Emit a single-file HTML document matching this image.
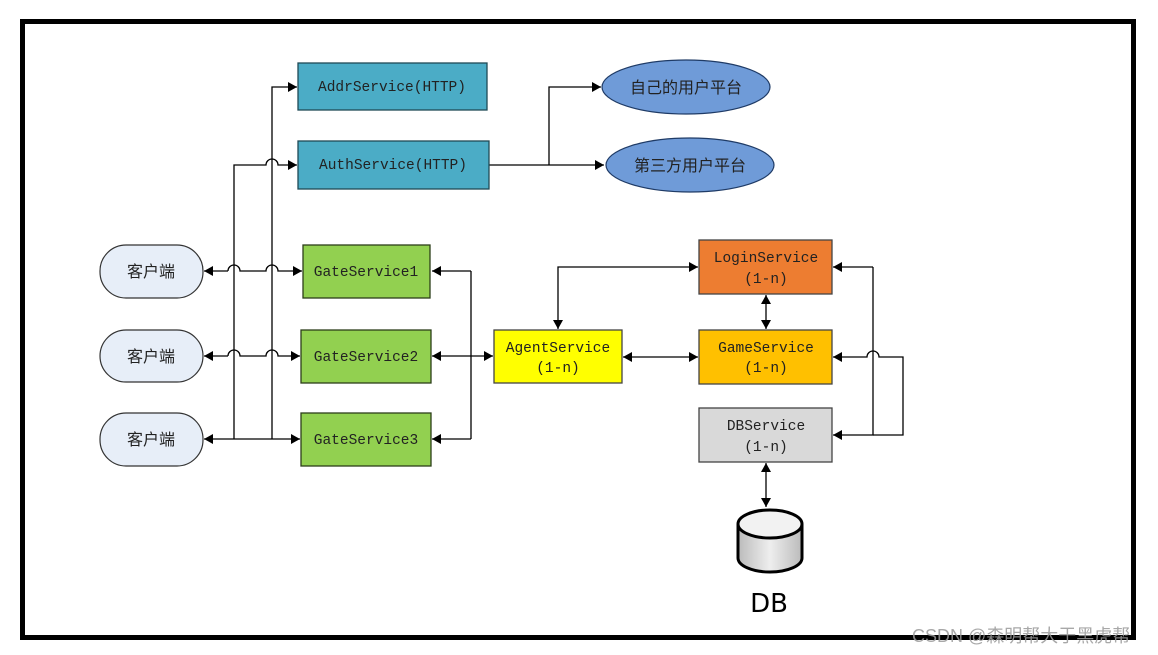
<!DOCTYPE html>
<html><head><meta charset="utf-8"><style>
body{margin:0;background:#fff;width:1158px;height:655px;overflow:hidden}
svg{position:absolute;left:0;top:0}
text{font-family:"Liberation Mono","Noto Serif CJK SC",monospace;font-size:14.5px;fill:#222}
.cj{font-family:"Liberation Sans","Noto Sans CJK SC",sans-serif;font-size:16px}
</style></head><body>
<svg width="1158" height="655" viewBox="0 0 1158 655">
<defs>
<marker id="a" markerWidth="10" markerHeight="10" refX="9" refY="5" orient="auto" markerUnits="userSpaceOnUse"><path d="M0,0 L9,5 L0,10z" fill="#000"/></marker>
<linearGradient id="g" x1="0" x2="1"><stop offset="0" stop-color="#bbb"/><stop offset=".5" stop-color="#eee"/><stop offset="1" stop-color="#bbb"/></linearGradient>
</defs>
<rect x="22.5" y="21.5" width="1111" height="616" fill="none" stroke="#000" stroke-width="5"/>
<g fill="none" stroke="#000" stroke-width="1.3">
<path d="M272,439 V87 H297" marker-end="url(#a)"/>
<path d="M234,439 V165 H266 a6,6 0 0 1 12,0 H297" marker-end="url(#a)"/>
<path d="M489,165 H604" marker-end="url(#a)"/>
<path d="M549,165 V87 H601" marker-end="url(#a)"/>
<path d="M228,271 a6,6 0 0 1 12,0 H266 a6,6 0 0 1 12,0 H302" marker-end="url(#a)"/>
<path d="M228,271 H204" marker-end="url(#a)"/>
<path d="M228,356 a6,6 0 0 1 12,0 H266 a6,6 0 0 1 12,0 H300" marker-end="url(#a)"/>
<path d="M228,356 H204" marker-end="url(#a)"/>
<path d="M234,439 H300" marker-end="url(#a)"/>
<path d="M234,439 H204" marker-end="url(#a)"/>
<path d="M471,271 V439"/>
<path d="M471,271 H432" marker-end="url(#a)"/>
<path d="M471,439 H432" marker-end="url(#a)"/>
<path d="M460,356 H432" marker-end="url(#a)"/>
<path d="M460,356 H493" marker-end="url(#a)"/>
<path d="M600,267 H698" marker-end="url(#a)"/>
<path d="M600,267 H558 V329" marker-end="url(#a)"/>
<path d="M660,357 H698" marker-end="url(#a)"/>
<path d="M660,357 H623" marker-end="url(#a)"/>
<path d="M766,312 V329" marker-end="url(#a)"/>
<path d="M766,312 V295" marker-end="url(#a)"/>
<path d="M873,267 H833" marker-end="url(#a)"/>
<path d="M873,267 V435 H833" marker-end="url(#a)"/>
<path d="M873,435 H903 V357 H879 a6,6 0 0 0 -12,0 H833" marker-end="url(#a)"/>
<path d="M766,485 V507" marker-end="url(#a)"/>
<path d="M766,485 V463" marker-end="url(#a)"/>
</g>
<g stroke="#1f4a56" stroke-width="1.3">
<rect x="298" y="63" width="189" height="47" fill="#4bacc6"/>
<rect x="298" y="141" width="191" height="48" fill="#4bacc6"/>
</g>
<g stroke="#2c3e1a" stroke-width="1.3" fill="#92d050">
<rect x="303" y="245" width="127" height="53"/>
<rect x="301" y="330" width="130" height="53"/>
<rect x="301" y="413" width="130" height="53"/>
</g>
<g stroke="#444" stroke-width="1.3">
<rect x="494" y="330" width="128" height="53" fill="#ffff00"/>
<rect x="699" y="240" width="133" height="54" fill="#ed7d31"/>
<rect x="699" y="330" width="133" height="54" fill="#ffc000"/>
<rect x="699" y="408" width="133" height="54" fill="#d9d9d9"/>
</g>
<g fill="#e7eef8" stroke="#333" stroke-width="1.2">
<rect x="100" y="245" width="103" height="53" rx="26"/>
<rect x="100" y="330" width="103" height="52" rx="26"/>
<rect x="100" y="413" width="103" height="53" rx="26"/>
</g>
<g fill="#6f9bd8" stroke="#1f3b66" stroke-width="1.2">
<ellipse cx="686" cy="87" rx="84" ry="27"/>
<ellipse cx="690" cy="165" rx="84" ry="27"/>
</g>
<path d="M738,524 V558 A32,14 0 0 0 802,558 V524" fill="url(#g)" stroke="#000" stroke-width="3"/>
<ellipse cx="770" cy="524" rx="32" ry="14" fill="#f2f2f2" stroke="#000" stroke-width="3"/>
<g text-anchor="middle">
<text x="392" y="91">AddrService(HTTP)</text>
<text x="393" y="169">AuthService(HTTP)</text>
<text x="366" y="276">GateService1</text>
<text x="366" y="361">GateService2</text>
<text x="366" y="444">GateService3</text>
<text x="558" y="352">AgentService</text><text x="558" y="372">(1-n)</text>
<text x="766" y="262">LoginService</text><text x="766" y="283">(1-n)</text>
<text x="766" y="352">GameService</text><text x="766" y="372">(1-n)</text>
<text x="766" y="430">DBService</text><text x="766" y="451">(1-n)</text>
<text class="cj" x="151" y="277">客户端</text>
<text class="cj" x="151" y="362">客户端</text>
<text class="cj" x="151" y="445">客户端</text>
<text class="cj" x="686" y="93">自己的用户平台</text>
<text class="cj" x="690" y="171">第三方用户平台</text>
<text x="769" y="612" style="font-family:'DejaVu Sans',sans-serif;font-size:26px;fill:#000">DB</text>
</g>
<text x="912" y="642" style="font-family:'Liberation Sans','Noto Sans CJK SC',sans-serif;font-size:18px;fill:#999;opacity:.85">CSDN @森明帮大于黑虎帮</text>
</svg>
</body></html>
